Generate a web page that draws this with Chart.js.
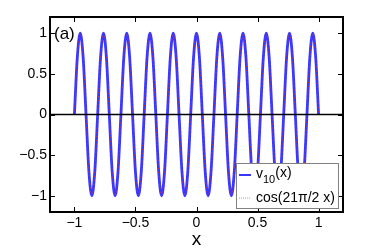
<!DOCTYPE html>
<html>
<head>
<meta charset="utf-8">
<script src="https://cdn.jsdelivr.net/npm/chart.js@4/dist/chart.umd.min.js"></script>
<style>
html,body{margin:0;padding:0;background:#fff;}
#wrap{width:382px;height:249px;}
</style>
</head>
<body>
<div id="wrap"><canvas id="c" width="382" height="249"></canvas></div>
<script>
// x positions (eighth-period samples)
const xValues = [-1, -0.9762, -0.9524, -0.9286, -0.9048, -0.8810, -0.8571, -0.8333, -0.8095, -0.7857,
  -0.7619, -0.7381, -0.7143, -0.6905, -0.6667, -0.6429, -0.6190, -0.5952, -0.5714, -0.5476,
  -0.5238, -0.5, -0.4762, -0.4524, -0.4286, -0.4048, -0.3810, -0.3571, -0.3333, -0.3095,
  -0.2857, -0.2619, -0.2381, -0.2143, -0.1905, -0.1667, -0.1429, -0.1190, -0.0952, -0.0714,
  -0.0476, -0.0238, 0, 0.0238, 0.0476, 0.0714, 0.0952, 0.1190, 0.1429, 0.1667,
  0.1905, 0.2143, 0.2381, 0.2619, 0.2857, 0.3095, 0.3333, 0.3571, 0.3810, 0.4048,
  0.4286, 0.4524, 0.4762, 0.5, 0.5238, 0.5476, 0.5714, 0.5952, 0.6190, 0.6429,
  0.6667, 0.6905, 0.7143, 0.7381, 0.7619, 0.7857, 0.8095, 0.8333, 0.8571, 0.8810,
  0.9048, 0.9286, 0.9524, 0.9762, 1];
// v_10(x)
const v10Values = [0, 0.707, 1, 0.707, 0, -0.707, -1, -0.707, 0, 0.707, 1, 0.707, 0, -0.707, -1, -0.707,
  0, 0.707, 1, 0.707, 0, -0.707, -1, -0.707, 0, 0.707, 1, 0.707, 0, -0.707, -1, -0.707,
  0, 0.707, 1, 0.707, 0, -0.707, -1, -0.707, 0, 0.707, 1,
  0.707, 0, -0.707, -1, -0.707, 0, 0.707, 1, 0.707, 0, -0.707, -1, -0.707, 0, 0.707, 1,
  0.707, 0, -0.707, -1, -0.707, 0, 0.707, 1, 0.707, 0, -0.707, -1, -0.707, 0, 0.707, 1,
  0.707, 0, -0.707, -1, -0.707, 0, 0.707, 1, 0.707, 0];
// cos(21*pi/2 x)
const cosValues = [0, 0.707, 1, 0.707, 0, -0.707, -1, -0.707, 0, 0.707, 1, 0.707, 0, -0.707, -1, -0.707,
  0, 0.707, 1, 0.707, 0, -0.707, -1, -0.707, 0, 0.707, 1, 0.707, 0, -0.707, -1, -0.707,
  0, 0.707, 1, 0.707, 0, -0.707, -1, -0.707, 0, 0.707, 1,
  0.707, 0, -0.707, -1, -0.707, 0, 0.707, 1, 0.707, 0, -0.707, -1, -0.707, 0, 0.707, 1,
  0.707, 0, -0.707, -1, -0.707, 0, 0.707, 1, 0.707, 0, -0.707, -1, -0.707, 0, 0.707, 1,
  0.707, 0, -0.707, -1, -0.707, 0, 0.707, 1, 0.707, 0];
const xTicks = [-1, -0.5, 0, 0.5, 1];
const yTicks = [-1, -0.5, 0, 0.5, 1];
const seriesNames = ['v', '10', '(x)', 'cos(21\u03c0/2 x)'];
const panelLabel = '(a)';
const xTitle = 'x';

const FONT = '"Liberation Sans", Arial, Helvetica, sans-serif';
const BLUE = 'rgb(55,55,255)';
const RED = 'rgba(255,40,40,0.75)';

function fmt(v) {
  const s = String(Math.abs(v));
  return v < 0 ? '\u2212' + s : s;
}

const decor = {
  id: 'decor',
  afterDatasetsDraw(chart) {
    const {ctx, chartArea: a, scales: {x, y}} = chart;
    ctx.save();
    // zero line
    ctx.strokeStyle = '#000';
    ctx.lineWidth = 1.6;
    const y0 = y.getPixelForValue(0);
    ctx.beginPath(); ctx.moveTo(a.left, y0); ctx.lineTo(a.right, y0); ctx.stroke();
    // inward ticks
    ctx.lineWidth = 1;
    const tl = 5;
    xTicks.forEach(v => {
      const px = Math.round(x.getPixelForValue(v)) + 0.5;
      ctx.beginPath();
      ctx.moveTo(px, a.bottom); ctx.lineTo(px, a.bottom - tl);
      ctx.moveTo(px, a.top); ctx.lineTo(px, a.top + tl);
      ctx.stroke();
    });
    yTicks.forEach(v => {
      const py = Math.round(y.getPixelForValue(v)) + 0.5;
      ctx.beginPath();
      ctx.moveTo(a.left, py); ctx.lineTo(a.left + tl, py);
      ctx.moveTo(a.right, py); ctx.lineTo(a.right - tl, py);
      ctx.stroke();
    });
    // frame
    ctx.lineWidth = 2;
    ctx.strokeRect(a.left, a.top, a.right - a.left, a.bottom - a.top);
    // panel label
    ctx.fillStyle = '#000';
    ctx.font = '17px ' + FONT;
    ctx.textAlign = 'left';
    ctx.textBaseline = 'middle';
    ctx.fillText(panelLabel, a.left + 4, y.getPixelForValue(1) + 1);
    // legend
    const bw = 102, bh = 45;
    const bx = a.right - 5 - bw, by = a.bottom - 4 - bh;
    ctx.fillStyle = '#fff';
    ctx.fillRect(bx, by, bw, bh);
    ctx.strokeStyle = '#808080';
    ctx.lineWidth = 1;
    ctx.strokeRect(Math.round(bx) + 0.5, Math.round(by) + 0.5, bw, bh);
    const r1 = by + 12, r2 = by + 35;
    ctx.strokeStyle = BLUE; ctx.lineWidth = 2;
    ctx.beginPath(); ctx.moveTo(bx + 3, r1); ctx.lineTo(bx + 15, r1); ctx.stroke();
    ctx.strokeStyle = 'rgb(255,130,130)'; ctx.lineWidth = 1; ctx.setLineDash([1, 1]);
    ctx.beginPath(); ctx.moveTo(bx + 3, r2); ctx.lineTo(bx + 15, r2); ctx.stroke();
    ctx.setLineDash([]);
    ctx.fillStyle = '#000';
    let tx = bx + 20;
    ctx.font = '14px ' + FONT;
    ctx.fillText(seriesNames[0], tx, r1 - 1);
    tx += ctx.measureText(seriesNames[0]).width;
    ctx.font = '11px ' + FONT;
    ctx.fillText(seriesNames[1], tx, r1 + 5);
    tx += ctx.measureText(seriesNames[1]).width;
    ctx.font = '14px ' + FONT;
    ctx.fillText(seriesNames[2], tx, r1 - 2);
    ctx.fillText(seriesNames[3], bx + 20, r2);
    ctx.restore();
  }
};

new Chart(document.getElementById('c'), {
  type: 'line',
  data: {
    datasets: [
      {
        label: 'cos',
        data: xValues.map((v, i) => ({x: v, y: cosValues[i]})),
        borderColor: RED, borderWidth: 1, borderDash: [1, 3],
        pointRadius: 0, cubicInterpolationMode: 'monotone', fill: false
      },
      {
        label: 'v10',
        data: xValues.map((v, i) => ({x: v, y: v10Values[i]})),
        borderColor: BLUE, borderWidth: 2.8,
        pointRadius: 0, cubicInterpolationMode: 'monotone', fill: false
      }
    ]
  },
  options: {
    responsive: false,
    animation: false,
    events: [],
    layout: {padding: {left: 0, right: 39, top: 17, bottom: 0}},
    plugins: {legend: {display: false}, tooltip: {enabled: false}},
    scales: {
      x: {
        type: 'linear', min: -1.2, max: 1.2,
        afterBuildTicks(s) { s.ticks = xTicks.map(v => ({value: v})); },
        afterFit(s) { s.height = 37; },
        grid: {display: false, drawTicks: false},
        border: {display: false},
        ticks: {color: '#000', font: {family: FONT, size: 14}, padding: 3, maxRotation: 0,
                callback: v => fmt(v)},
        title: {display: true, text: xTitle, color: '#000', font: {family: FONT, size: 19, lineHeight: 1},
                padding: {top: 0, bottom: 0}}
      },
      y: {
        type: 'linear', min: -1.2, max: 1.2,
        afterBuildTicks(s) { s.ticks = yTicks.map(v => ({value: v})); },
        afterFit(s) { s.width = 50; },
        grid: {display: false, drawTicks: false},
        border: {display: false},
        ticks: {color: '#000', font: {family: FONT, size: 14}, padding: 3,
                callback: v => fmt(v)}
      }
    }
  },
  plugins: [decor]
});
</script>
</body>
</html>
